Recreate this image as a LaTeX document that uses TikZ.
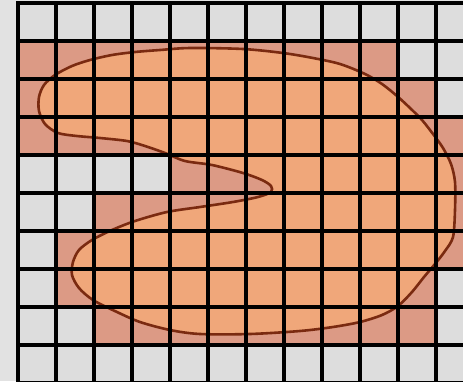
\documentclass[tikz,border=0pt]{standalone}
\usepackage{tikz}
\definecolor{bggray}{HTML}{E2E2E2}
\definecolor{cellgray}{HTML}{DDDDDD}
\definecolor{cellhit}{HTML}{DC9A85}
\definecolor{blobfill}{HTML}{F0A77A}
\definecolor{blobline}{HTML}{7A2A10}

\begin{document}
\begin{tikzpicture}[x=1pt,y=-1pt,
    gridline/.style={line width=3.2pt,black,line cap=rect},
    blobedge/.style={line width=2.6pt,blobline,line join=round}]
  \fill[bggray] (0,0) rectangle (463,381);
  \useasboundingbox (0,0) rectangle (463,381);
  \foreach \r in {0,...,9}{
    \foreach \c in {0,...,11}{
      \fill[cellgray] ({18+38*\c},{3+38*\r}) rectangle +(38,38);
    }
  }
  \foreach \r/\a/\b in {1/0/9,2/0/10,3/0/11,4/4/11,5/2/11,6/1/11,7/1/10,8/2/10}{
    \foreach \c in {\a,...,\b}{
      \fill[cellhit] ({18+38*\c},{3+38*\r}) rectangle +(38,38);
    }
  }
  \path[fill=blobfill] plot[smooth cycle] coordinates {
    (55,75) (72,66) (90,60) (112,55) (135,52) (160,50) (190,48) (243,49)
    (283,53) (313,58) (340,64) (365,74) (382,84) (397,96) (410,108)
    (422,120) (433,134) (443,148) (451,164) (455,182) (455,210) (453,237)
    (445,251) (435,264) (424,277) (412,292) (398,306) (382,315) (360,322)
    (333,327) (300,331) (250,334) (200,334) (170,330) (140,322) (117,312)
    (93,300) (79,288) (72,275) (73,262) (79,250) (92,240) (112,230)
    (135,221) (167,212) (200,207) (233,202) (258,197) (271,192) (271,186)
    (262,180) (243,173) (212,165) (185,161) (165,153) (145,146) (127,141)
    (100,138) (77,136) (58,133) (45,124) (39,111) (39,97) (44,85)};
  \draw[blobedge] plot[smooth cycle] coordinates {
    (55,75) (72,66) (90,60) (112,55) (135,52) (160,50) (190,48) (243,49)
    (283,53) (313,58) (340,64) (365,74) (382,84) (397,96) (410,108)
    (422,120) (433,134) (443,148) (451,164) (455,182) (455,210) (453,237)
    (445,251) (435,264) (424,277) (412,292) (398,306) (382,315) (360,322)
    (333,327) (300,331) (250,334) (200,334) (170,330) (140,322) (117,312)
    (93,300) (79,288) (72,275) (73,262) (79,250) (92,240) (112,230)
    (135,221) (167,212) (200,207) (233,202) (258,197) (271,192) (271,186)
    (262,180) (243,173) (212,165) (185,161) (165,153) (145,146) (127,141)
    (100,138) (77,136) (58,133) (45,124) (39,111) (39,97) (44,85)};
  \foreach \k in {0,...,12}{
    \draw[gridline] ({18+38*\k},3) -- ({18+38*\k},383);
  }
  \foreach \k in {0,...,10}{
    \draw[gridline] (18,{3+38*\k}) -- (474,{3+38*\k});
  }
\end{tikzpicture}
\end{document}
